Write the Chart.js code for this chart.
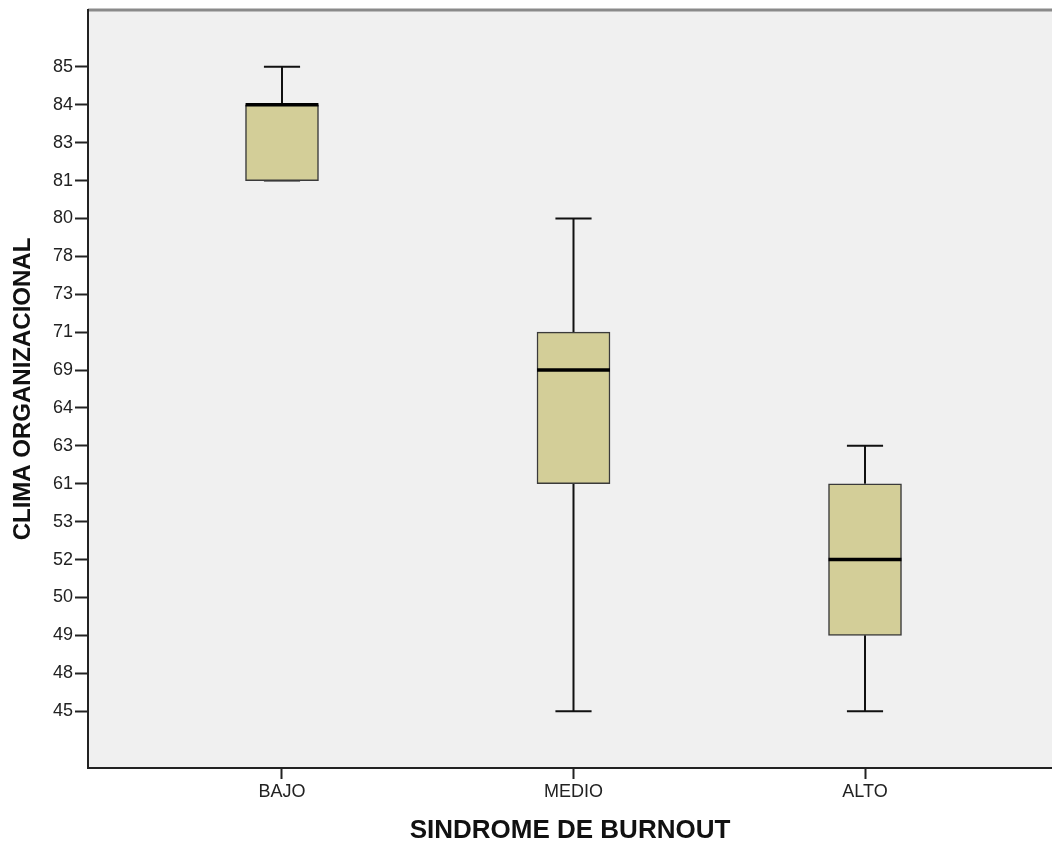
<!DOCTYPE html>
<html>
<head>
<meta charset="utf-8">
<script src="https://cdn.jsdelivr.net/npm/chart.js@4"></script>
<style>
  html, body { margin: 0; padding: 0; background: #fff; overflow: hidden; }
  #wrap { width: 1052px; height: 846px; }
</style>
</head>
<body>
<div id="wrap"><canvas id="myChart" width="1052" height="846"></canvas></div>
<script>
// ordinal tick labels of the y axis, bottom to top (evenly spaced, like SPSS)
const yLabels = ['45', '48', '49', '50', '52', '53', '61', '63', '64', '69', '71', '73', '78', '80', '81', '83', '84', '85'];

const groups = ['BAJO', 'MEDIO', 'ALTO'];
const mins    = [81, 45, 45];
const q1s     = [81, 61, 49];
const medians = [84, 69, 52];
const q3s     = [84, 71, 61];
const maxs    = [85, 80, 63];

// each value sits on the position of its label
const pos = v => yLabels.indexOf(String(v));

const BOX_HALF = 0.125;   // half box width, in x units
const CAP_HALF = 0.062;   // half whisker cap width

const datasets = [];

// boxes
datasets.push({
  type: 'bar',
  data: groups.map((g, i) => ({ x: i, y: [pos(q1s[i]), pos(q3s[i])] })),
  backgroundColor: '#d3ce98',
  borderColor: '#3a3a3a',
  borderWidth: 1.5,
  borderSkipped: false,
  barThickness: 73,
  order: 1
});

// whiskers, caps and medians
groups.forEach((g, i) => {
  const line = (pts) => ({
    type: 'line',
    data: pts,
    borderColor: '#111',
    borderWidth: 2,
    pointRadius: 0,
    fill: false,
    order: 2
  });
  datasets.push(line([{ x: i, y: pos(q3s[i]) }, { x: i, y: pos(maxs[i]) }]));
  datasets.push(line([{ x: i, y: pos(q1s[i]) }, { x: i, y: pos(mins[i]) }]));
  datasets.push(line([{ x: i - CAP_HALF, y: pos(maxs[i]) }, { x: i + CAP_HALF, y: pos(maxs[i]) }]));
  datasets.push(line([{ x: i - CAP_HALF, y: pos(mins[i]) }, { x: i + CAP_HALF, y: pos(mins[i]) }]));
  datasets.push({
    type: 'line',
    data: [{ x: i - BOX_HALF, y: pos(medians[i]) }, { x: i + BOX_HALF, y: pos(medians[i]) }],
    borderColor: '#000',
    borderWidth: 3.5,
    pointRadius: 0,
    fill: false,
    order: 0
  });
});

// light gray plot background with a gray top edge
const plotBg = {
  id: 'plotBg',
  beforeDraw(chart) {
    const { ctx, chartArea: a } = chart;
    ctx.save();
    ctx.fillStyle = '#f0f0f0';
    ctx.fillRect(a.left, a.top, a.right - a.left, a.bottom - a.top);
    ctx.strokeStyle = '#8a8a8a';
    ctx.lineWidth = 3;
    ctx.beginPath();
    ctx.moveTo(a.left, a.top);
    ctx.lineTo(a.right, a.top);
    ctx.stroke();
    ctx.restore();
  }
};

Chart.defaults.font.family = '"Liberation Sans", Arial, sans-serif';
Chart.defaults.color = '#222';

new Chart(document.getElementById('myChart'), {
  type: 'bar',
  data: { datasets },
  options: {
    responsive: false,
    animation: false,
    layout: { padding: { top: 10, right: 0, left: 0, bottom: 0 } },
    plugins: {
      legend: { display: false },
      tooltip: { enabled: false }
    },
    scales: {
      x: {
        type: 'linear',
        offset: false,
        min: -0.6655,
        max: 2.6415,
        afterBuildTicks: axis => { axis.ticks = groups.map((g, i) => ({ value: i })); },
        afterFit: scale => { scale.height = 78; },
        ticks: {
          callback: v => groups[v],
          font: { size: 18 },
          color: '#222',
          padding: 2,
          maxRotation: 0
        },
        grid: { offset: false, drawOnChartArea: false, drawTicks: true, tickLength: 11, color: '#222', tickWidth: 2 },
        border: { color: '#222', width: 2 },
        title: {
          display: true,
          text: 'SINDROME DE BURNOUT',
          font: { size: 26, weight: 'bold' },
          color: '#111',
          padding: { top: 6, bottom: 0 }
        }
      },
      y: {
        type: 'linear',
        min: -1.5,
        max: 18.5,
        afterBuildTicks: axis => { axis.ticks = yLabels.map((l, i) => ({ value: i })); },
        afterFit: scale => { scale.width = 88; scale.paddingTop = 0; scale.paddingBottom = 0; },
        ticks: {
          callback: v => yLabels[v],
          font: { size: 18 },
          color: '#222',
          padding: 2
        },
        grid: { drawOnChartArea: false, drawTicks: true, tickLength: 13, color: '#222', tickWidth: 2 },
        border: { color: '#222', width: 2 },
        title: {
          display: true,
          text: 'CLIMA ORGANIZACIONAL',
          font: { size: 24, weight: 'bold' },
          color: '#111',
          padding: { top: 9, bottom: 0 }
        }
      }
    }
  },
  plugins: [plotBg]
});
</script>
</body>
</html>
